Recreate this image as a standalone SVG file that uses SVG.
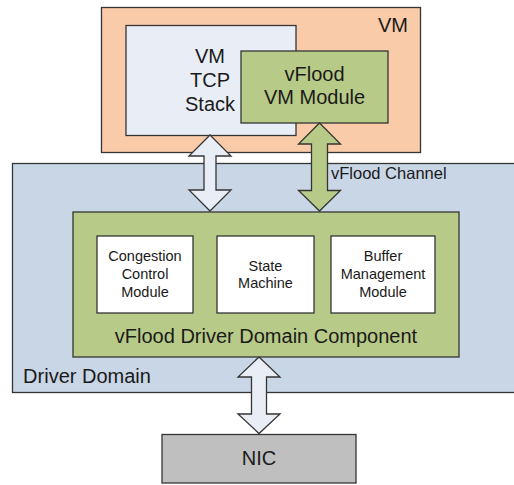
<svg xmlns="http://www.w3.org/2000/svg" width="514" height="485" viewBox="0 0 514 485">
<style>
.b{stroke:#353535;stroke-width:1.3}
.t{font-family:"Liberation Sans",Arial,sans-serif;fill:#1a1a1a;text-anchor:middle}
.l{font-size:20px}
.s{font-size:14.5px}
</style>
<rect width="514" height="485" fill="#ffffff"/>
<g id="vm">
<rect class="b" x="101.5" y="7.5" width="319" height="145" fill="#FACBA8"/>
<text class="t l" x="393" y="32">VM</text>
</g>
<g id="tcp-stack">
<rect class="b" x="126" y="25.5" width="170" height="110" fill="#E9EEF6"/>
<text class="t l" x="210" y="63">VM</text>
<text class="t l" x="210" y="87">TCP</text>
<text class="t l" x="210" y="111">Stack</text>
</g>
<g id="vflood-vm-module">
<rect class="b" x="241" y="51" width="147" height="72" fill="#B8CA87"/>
<text class="t l" x="314.5" y="81">vFlood</text>
<text class="t l" x="314.5" y="104">VM Module</text>
</g>
<g id="driver-domain">
<rect class="b" x="12.5" y="163.5" width="503" height="229" fill="#C9D6E6"/>
<text class="t l" x="87" y="383">Driver Domain</text>
</g>
<g id="vflood-driver-component">
<rect class="b" x="73" y="212" width="386" height="145" fill="#B8CA87"/>
<text class="t l" x="266" y="343">vFlood Driver Domain Component</text>
</g>
<g id="congestion-control">
<rect class="b" x="97" y="236" width="96" height="77" fill="#ffffff"/>
<text class="t s" x="145" y="261">Congestion</text>
<text class="t s" x="145" y="279">Control</text>
<text class="t s" x="145" y="297">Module</text>
</g>
<g id="state-machine">
<rect class="b" x="217" y="236" width="97" height="77" fill="#ffffff"/>
<text class="t s" x="265.5" y="271">State</text>
<text class="t s" x="265.5" y="288">Machine</text>
</g>
<g id="buffer-management">
<rect class="b" x="331" y="236" width="104" height="77" fill="#ffffff"/>
<text class="t s" x="383" y="261">Buffer</text>
<text class="t s" x="383" y="279">Management</text>
<text class="t s" x="383" y="297">Module</text>
</g>
<g id="nic">
<rect class="b" x="162" y="434.5" width="194" height="48.5" fill="#BFBFBF"/>
<text class="t l" x="259" y="465">NIC</text>
</g>
<g id="connectors">
<polygon class="b" fill="#E9EEF6" points="210,135 231,156 216,156 216,190 231,190 210,211 189,190 204,190 204,156 189,156"/>
<polygon class="b" fill="#B8CA87" points="319.5,123 340.5,144 327.5,144 327.5,190.5 340.5,190.5 319.5,211 298.5,190.5 311.5,190.5 311.5,144 298.5,144"/>
<polygon class="b" fill="#E9EEF6" points="259,357 280,377 266.5,377 266.5,414 280,414 259,433.5 238,414 251.5,414 251.5,377 238,377"/>
<text class="t" style="font-size:16.5px;text-anchor:start" x="331" y="179">vFlood Channel</text>
</g>
</svg>
